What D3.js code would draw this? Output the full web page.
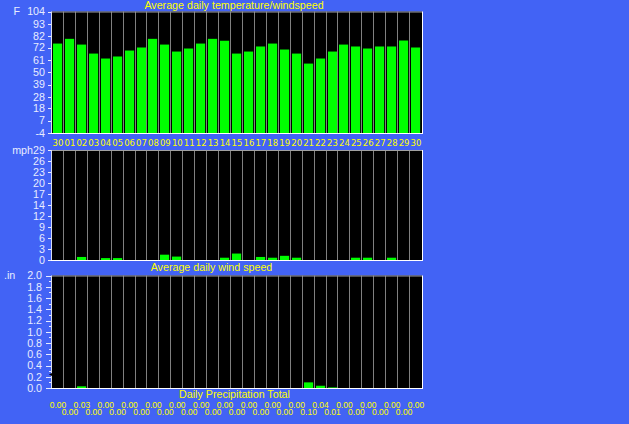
<!DOCTYPE html>
<html>
<head>
<meta charset="utf-8">
<script src="https://cdn.jsdelivr.net/npm/d3@7"></script>
<style>
  html, body { margin: 0; padding: 0; background: #4263f5; }
  text { font-family: "Liberation Sans", Arial, sans-serif; }
</style>
</head>
<body>
<div id="chart"></div>
<script>
// day labels (last 31 days, starts on the 30th of previous month)
var days = ["30","01","02","03","04","05","06","07","08","09","10","11","12","13","14","15",
            "16","17","18","19","20","21","22","23","24","25","26","27","28","29","30"];

// average daily temperature, F
var temps = [75.5, 79.7, 74.6, 66.6, 62.2, 64.0, 69.3, 72.0, 79.7, 74.6, 68.4, 71.1, 75.5, 79.7, 78.0, 66.6,
             68.4, 72.9, 75.5, 70.2, 66.6, 57.7, 62.2, 68.4, 74.6, 72.9, 71.1, 72.9, 72.9, 78.2, 72.0];

// average daily wind speed, mph
var winds = [0, 0, 0.8, 0, 0.5, 0.5, 0, 0, 0, 1.4, 0.9, 0, 0, 0, 0.6, 1.7,
             0, 0.8, 0.6, 1.1, 0.6, 0, 0, 0, 0, 0.6, 0.6, 0, 0.6, 0, 0];

// daily precipitation total, in
var precip = [0, 0, 0.03, 0, 0, 0, 0, 0, 0, 0, 0, 0, 0, 0, 0, 0,
              0, 0, 0, 0, 0, 0.10, 0.04, 0.01, 0, 0, 0, 0, 0, 0, 0];

// axis tick labels
var tempTicks = ["-4","7","18","28","39","50","61","72","82","93","104"];
var windTicks = ["0","3","6","9","12","14","17","20","23","26","29"];
var precipTicks = ["0.0","0.2","0.4","0.6","0.8","1.0","1.2","1.4","1.6","1.8","2.0"];
var precipMarker = 0.24;

var width = 629, height = 424;
var blue = "#4263f5", yellow = "#ffff00", labelColor = "#e8ecff", green = "#00ff00", grid = "#808080";

var svg = d3.select("#chart").append("svg")
  .attr("width", width)
  .attr("height", height);

svg.append("rect").attr("width", width).attr("height", height).attr("fill", blue);

// shared x scale
var x = d3.scaleBand().domain(d3.range(days.length)).range([52, 422]);

// draws one panel: frame, gridlines, bars, y ticks
function panel(yScale, base, values, tickVals, tickLabels, minor) {
  var top = yScale.range()[1], bottom = yScale.range()[0];
  var g = svg.append("g");
  g.append("rect").attr("x", 52).attr("y", top).attr("width", 370).attr("height", bottom - top).attr("fill", "#000");
  // gridlines between days
  g.selectAll(".grid").data(d3.range(1, days.length)).enter().append("line")
    .attr("x1", function (i) { return Math.round(x(i)) - 0.5; })
    .attr("x2", function (i) { return Math.round(x(i)) - 0.5; })
    .attr("y1", top).attr("y2", bottom)
    .attr("stroke", grid).attr("stroke-width", 1);
  // bars
  g.selectAll(".bar").data(values).enter().append("rect")
    .attr("x", function (d, i) { return Math.round(x(i)) + 1; })
    .attr("width", x.bandwidth() - 2.8)
    .attr("y", function (d) { return yScale(d); })
    .attr("height", function (d) { return Math.max(0, yScale(base) - yScale(d)); })
    .attr("fill", green);
  // frame
  g.append("line").attr("x1", 52).attr("x2", 422).attr("y1", top + 0.5).attr("y2", top + 0.5).attr("stroke", "#a0a0a0");
  g.append("line").attr("x1", 51.5).attr("x2", 51.5).attr("y1", top).attr("y2", bottom + 1).attr("stroke", "#d8dcf0");
  g.append("line").attr("x1", 51).attr("x2", 423).attr("y1", bottom + 0.5).attr("y2", bottom + 0.5).attr("stroke", "#fff");
  g.append("line").attr("x1", 422.5).attr("x2", 422.5).attr("y1", top).attr("y2", bottom + 1).attr("stroke", "#fff");
  // y axis ticks and labels
  g.selectAll(".tick").data(tickVals).enter().append("line")
    .attr("x1", minor ? 46 : 48).attr("x2", 51)
    .attr("y1", function (d) { return Math.round(yScale(d)) + 0.5; })
    .attr("y2", function (d) { return Math.round(yScale(d)) + 0.5; })
    .attr("stroke", labelColor);
  g.selectAll(".lbl").data(tickVals).enter().append("text")
    .attr("x", minor ? 42 : 45)
    .attr("y", function (d) { return yScale(d) + 3.8; })
    .attr("text-anchor", "end")
    .attr("font-size", "10.7px")
    .attr("fill", labelColor)
    .text(function (d, i) { return tickLabels[i]; });
  if (minor) {
    g.selectAll(".minor").data(d3.range(0.1, 2, 0.2)).enter().append("line")
      .attr("x1", 49).attr("x2", 51)
      .attr("y1", function (d) { return Math.round(yScale(d)) + 0.5; })
      .attr("y2", function (d) { return Math.round(yScale(d)) + 0.5; })
      .attr("stroke", labelColor);
  }
  return g;
}

// 1. temperature
var yTemp = d3.scaleLinear().domain([-4, 104]).range([133, 11.5]);
panel(yTemp, -4, temps, tempTicks.map(Number), tempTicks, false);
svg.append("text").attr("x", 20).attr("y", yTemp(104) + 3.8).attr("text-anchor", "end")
  .attr("font-size", "10.7px").attr("fill", labelColor).text("F");
svg.append("text").attr("x", 234).attr("y", 8.5).attr("text-anchor", "middle")
  .attr("font-size", "10.7px").attr("fill", yellow).text("Average daily temperature/windspeed");

// day labels
svg.selectAll(".day").data(days).enter().append("text")
  .attr("x", function (d, i) { return x(i) + x.bandwidth() / 2; })
  .attr("y", 146)
  .attr("text-anchor", "middle")
  .attr("font-size", "9.5px")
  .style("font-family", "'Liberation Sans Narrow', 'DejaVu Sans Condensed', sans-serif")
  .attr("fill", yellow)
  .text(function (d) { return d; });

// 2. wind speed
var yWind = d3.scaleLinear().domain([0, 29]).range([260, 150]);
panel(yWind, 0, winds, windTicks.map(function (d, i) { return i * 2.9; }), windTicks, false);
svg.append("text").attr("x", 33).attr("y", yWind(29) + 3.8).attr("text-anchor", "end")
  .attr("font-size", "10.7px").attr("fill", labelColor).text("mph");
svg.append("text").attr("x", 211.5).attr("y", 271).attr("text-anchor", "middle")
  .attr("font-size", "10.7px").attr("fill", yellow).text("Average daily wind speed");

// 3. precipitation
var yPrec = d3.scaleLinear().domain([0, 2]).range([388, 275.5]);
panel(yPrec, 0, precip, precipTicks.map(Number), precipTicks, true);
svg.append("text").attr("x", 4).attr("y", yPrec(2) + 3.8)
  .attr("font-size", "10.7px").attr("fill", labelColor).text(".in");
svg.append("path")
  .attr("d", "M49," + yPrec(precipMarker) + "l3,-1.5v3z")
  .attr("fill", "#000");
svg.append("text").attr("x", 234.5).attr("y", 398).attr("text-anchor", "middle")
  .attr("font-size", "10.7px").attr("fill", yellow).text("Daily Precipitation Total");

svg.selectAll(".pval").data(precip).enter().append("text")
  .attr("x", function (d, i) { return x(i) + x.bandwidth() / 2; })
  .attr("y", function (d, i) { return i % 2 == 0 ? 407.5 : 415; })
  .attr("text-anchor", "middle")
  .attr("font-size", "8.5px")
  .attr("fill", yellow)
  .text(function (d) { return d.toFixed(2); });
</script>
</body>
</html>
